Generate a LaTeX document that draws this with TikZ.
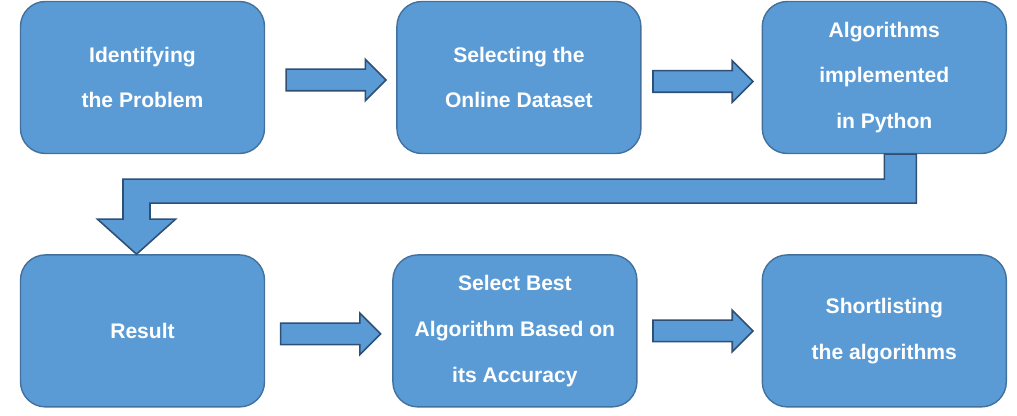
\documentclass[tikz,border=0pt]{standalone}
\usepackage{fontspec}
\setmainfont{Liberation Sans}
\usepackage{xcolor}
\usepackage{tikz}
\usetikzlibrary{shapes.arrows}
\usetikzlibrary{positioning}
\usetikzlibrary{calc}

\definecolor{boxblue}{HTML}{5B9BD5}
\definecolor{edgeblue}{HTML}{41719C}
\definecolor{arrowedge}{HTML}{2F4F75}

\begin{document}
\begin{tikzpicture}[
        node distance = 2cm,
        box/.style={rounded corners=0.5cm,draw=edgeblue,line width=0.8pt,fill=boxblue,
          minimum width=4.88cm,minimum height=3.04cm,align=center,text=white,
          font=\fontsize{12}{26}\selectfont\bfseries},
        blockarrow/.style={single arrow,draw=arrowedge,line width=0.9pt,fill=boxblue,
          minimum height=2cm,inner xsep=0pt,inner ysep=0.2cm,single arrow head extend=0.2cm,
          single arrow tip angle=90}
        ]
        \useasboundingbox (0,0) rectangle (20.34,-8.32);
        % top row
        \node[box] (idprob) at (2.85,-1.55) {Identifying\\the Problem};
        \node[box,right=2.62cm of idprob] (seldata) {Selecting the\\Online Dataset};
        \node[box,right=2.4cm of seldata] (algpy) {Algorithms\\implemented\\in Python};
        % bottom row
        \node[box,below=2cm of idprob] (result) {Result};
        \node[box,right=2.54cm of result] (bestalg) {Select Best\\Algorithm Based on\\its Accuracy};
        \node[box,right=2.48cm of bestalg] (shortlist) {Shortlisting\\the algorithms};
        % arrows between boxes
        \node[blockarrow] (a1) at ($(idprob.east)!0.5!(seldata.west)+(0,-0.05)$) {};
        \node[blockarrow] (a2) at ($(seldata.east)!0.5!(algpy.west)+(-0.08,-0.08)$) {};
        \node[blockarrow] (a4) at ($(result.east)!0.5!(bestalg.west)+(-0.07,-0.06)$) {};
        \node[blockarrow] (a5) at ($(bestalg.east)!0.5!(shortlist.west)+(-0.04,0)$) {};
        % elbow from algpy down to result
        \coordinate (tip) at ($(result.north)+(-0.12,0)$);
        \filldraw[fill=boxblue,draw=arrowedge,line width=0.9pt]
          (algpy.south) -- ++(0.64,0) |- ($(tip)+(0.27,1.02)$) -- ++(0,-0.32)
          -- ++(0.51,0) -- (tip) -- ++(-0.78,0.7) -- ++(0.51,0)
          |- ($(algpy.south)+(0,-0.5)$) -- cycle;
      \end{tikzpicture}
\end{document}
